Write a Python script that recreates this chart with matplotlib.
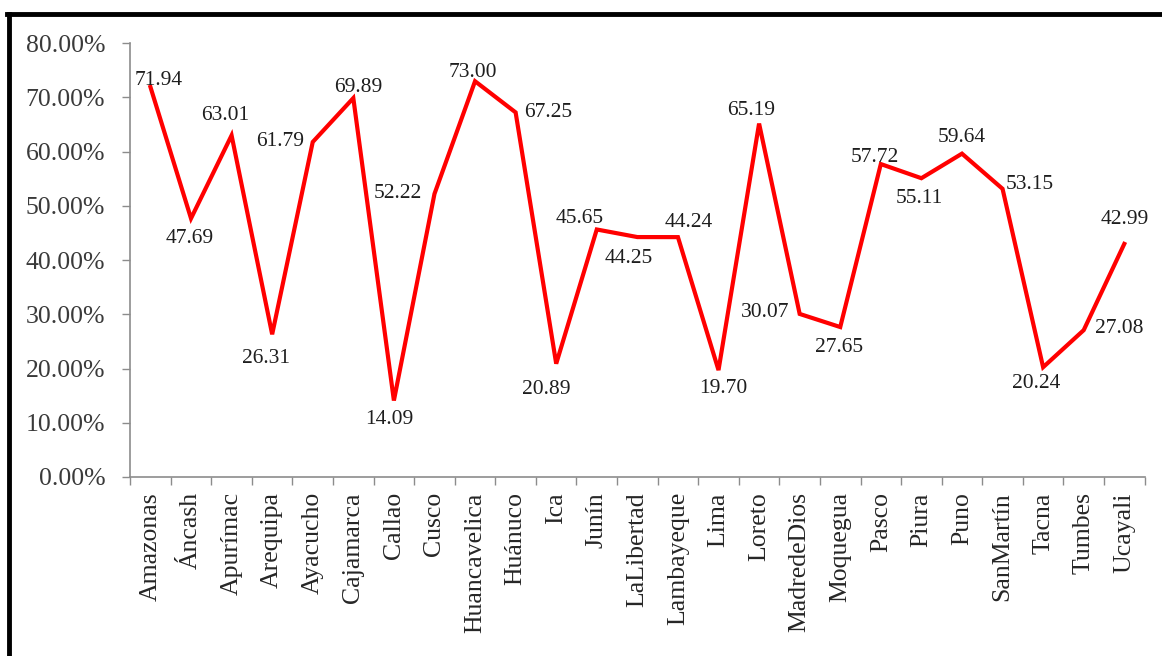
import matplotlib.pyplot as plt
from matplotlib.lines import Line2D
from matplotlib.ticker import FuncFormatter, MultipleLocator
import numpy as np

# Regions and percentage values
regiones = ["Amazonas", "Áncash", "Apurímac", "Arequipa", "Ayacucho", "Cajamarca",
            "Callao", "Cusco", "Huancavelica", "Huánuco", "Ica", "Junín",
            "LaLibertad", "Lambayeque", "Lima", "Loreto", "MadredeDios", "Moquegua",
            "Pasco", "Piura", "Puno", "SanMartín", "Tacna", "Tumbes", "Ucayali"]
valores = [71.94, 47.69, 63.01, 26.31, 61.79, 69.89,
           14.09, 52.22, 73.00, 67.25, 20.89, 45.65,
           44.25, 44.24, 19.70, 65.19, 30.07, 27.65,
           57.72, 55.11, 59.64, 53.15, 20.24, 27.08, 42.99]

# where each value label sits relative to its point (pixels, +y is up)
desplaz = [(8, 6), (-1, -20), (-6, 20), (-6, -24), (-33, 0), (5, 11),
           (-5, -19), (-37, 0), (-2, 9), (33, 0), (-10, -26), (-17, 11),
           (-9, -21), (11, 15), (5, -18), (-8, 13), (-35, 1), (-1, -20),
           (-6, 7), (-2, -20), (0, 16), (27, 4), (-7, -16), (36, 2), (0, 24)]

plt.rcParams['font.family'] = ['Liberation Serif', 'DejaVu Serif']

fig = plt.figure(figsize=(11.62, 6.56), dpi=100)
ax = fig.add_axes([0.112, 0.273, 0.873, 0.661])

x = np.arange(len(regiones))
ax.plot(x, valores, color='#ff0000', lw=3.0, solid_joinstyle='miter')

for xi, v, (dx, dy) in zip(x, valores, desplaz):
    ax.annotate(f"{v:.2f}", (xi, v), xytext=(dx, dy), textcoords='offset pixels',
                ha='center', va='center', fontsize=15.5, color='#1e1e1e')

ax.set_xlim(-0.5, len(regiones) - 0.5)
ax.set_ylim(0, 80)
ax.yaxis.set_major_locator(MultipleLocator(10))
ax.yaxis.set_major_formatter(FuncFormatter(lambda v, p: f"{v:.2f}%"))

ax.set_xticks(x)
ax.set_xticklabels(regiones, rotation=90, ha='center', va='top')
ax.set_xticks(np.arange(-0.5, len(regiones)), minor=True)
ax.tick_params(axis='x', which='major', length=0, pad=11, labelsize=18.5, labelcolor='#262626')
ax.tick_params(axis='x', which='minor', length=6, color='#8c8c8c', width=1)
ax.tick_params(axis='y', length=6, color='#8c8c8c', width=1, pad=12,
               labelsize=18.5, labelcolor='#3a3a3a')

for s in ['top', 'right']:
    ax.spines[s].set_visible(False)
for s in ['left', 'bottom']:
    ax.spines[s].set_color('#8c8c8c')
    ax.spines[s].set_linewidth(1.2)

# black frame around the figure (top and left edges show)
fig.add_artist(Line2D([7 / 1162, 1.05], [1 - 14 / 656, 1 - 14 / 656],
                      transform=fig.transFigure, color='black', lw=3.5))
fig.add_artist(Line2D([8.5 / 1162, 8.5 / 1162], [-0.05, 1 - 14 / 656],
                      transform=fig.transFigure, color='black', lw=3.5))

fig.savefig("out.png", dpi=100)
